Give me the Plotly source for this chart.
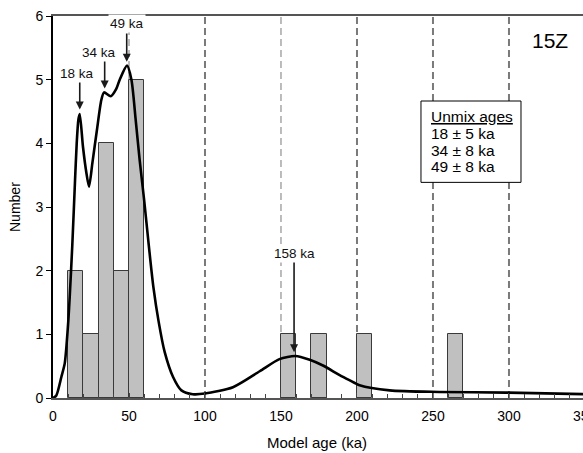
import plotly.graph_objects as go

# Histogram of model ages (10 ka bins)
bin_start = [10, 20, 30, 40, 50, 150, 170, 200, 260]
bin_count = [2, 1, 4, 2, 5, 1, 1, 1, 1]
bin_width = 10

# Probability density curve (age in ka, scaled density)
curve_age = [0, 2.2, 5.5, 7.7, 8.8, 10.1, 11.0, 12.7, 14.5, 15.6, 16.7, 17.6,
             19.7, 22.0, 23.7, 25.9, 28.9, 31.8, 33.6, 38.0, 41.7, 43.9, 48.7,
             51.6, 54.4, 57.0, 60.0, 63.0, 66.0, 69.5, 73.5, 79.0, 84.5, 92.0,
             100, 118.4, 136, 149, 159.5, 168.9, 177.6, 188.6, 195, 201.7,
             221.5, 254, 298, 350]
curve_density = [0, 0.04, 0.33, 0.54, 0.8, 1.22, 1.59, 2.4, 3.42, 4.0, 4.37, 4.46,
                 3.95, 3.53, 3.32, 3.69, 4.21, 4.68, 4.80, 4.74, 4.86, 5.0, 5.22,
                 5.0, 4.37, 3.74, 3.1, 2.4, 1.75, 1.2, 0.72, 0.33, 0.12, 0.06,
                 0.07, 0.17, 0.42, 0.61, 0.66, 0.60, 0.51, 0.36, 0.28, 0.2,
                 0.12, 0.095, 0.085, 0.06]

# Peak markers: (age, arrow tip, arrow tail, label)
peak_age = [17.6, 34.0, 48.5, 158.6]
peak_tip = [4.53, 4.86, 5.28, 0.72]
peak_tail = [5.0, 5.32, 5.75, 2.17]
peak_label = ["18 ka", "34 ka", "49 ka", "158 ka"]
peak_label_x = [16.0, 30.3, 48.9, 158.6]
peak_label_y = [5.10, 5.43, 5.88, 2.27]

# Unmix results box
unmix_title = "Unmix ages"
unmix_rows = ["18 ± 5 ka", "34 ± 8 ka", "49 ± 8 ka"]

grid_x = [50, 100, 150, 200, 250, 300]
grid_w = [1, 2, 1, 2, 2, 2]

FONT = "Liberation Sans"
X_MAX = 348.7

fig = go.Figure()

fig.add_trace(go.Bar(
    x=[s + bin_width / 2 for s in bin_start],
    y=bin_count,
    width=bin_width,
    marker=dict(color="#c0c0c0", line=dict(color="#3a3a3a", width=1)),
    showlegend=False, hoverinfo="skip",
))

fig.add_trace(go.Scatter(
    x=curve_age, y=curve_density, mode="lines",
    line=dict(color="black", width=2.6, shape="spline", smoothing=0.7),
    showlegend=False, hoverinfo="skip",
))

for gx, gw in zip(grid_x, grid_w):
    fig.add_shape(type="line", x0=gx, x1=gx, y0=0, y1=6, xref="x", yref="y",
                  line=dict(color="#7a7a7a", width=gw, dash="7px,4px"),
                  layer="below")

annotations = []
for a, tip, tail in zip(peak_age, peak_tip, peak_tail):
    annotations.append(dict(
        x=a, y=tip, ax=a, ay=tail, xref="x", yref="y", axref="x", ayref="y",
        text="", showarrow=True, arrowhead=2, arrowsize=1.0, arrowwidth=1.6,
        arrowcolor="#1a1a1a", standoff=0,
    ))
for lx, ly, lt in zip(peak_label_x, peak_label_y, peak_label):
    annotations.append(dict(
        x=lx, y=ly, xref="x", yref="y", text=lt, showarrow=False,
        font=dict(family=FONT, size=13.5, color="#111"),
        xanchor="center", yanchor="middle", bgcolor="white", borderpad=1,
    ))

# Results box
fig.add_shape(type="rect", x0=242.1, x1=307.9, y0=3.387, y1=4.665,
              xref="x", yref="y", fillcolor="white",
              line=dict(color="black", width=1), layer="above")
box_rows = ["<u>" + unmix_title + "</u>"] + unmix_rows
box_y = [4.42, 4.16, 3.89, 3.63]
for ty, txt in zip(box_y, box_rows):
    annotations.append(dict(
        x=247.5, y=ty, xref="x", yref="y", text=txt, showarrow=False,
        font=dict(family=FONT, size=15.5, color="black"),
        xanchor="left", yanchor="middle",
    ))

# Sample name
annotations.append(dict(
    x=327, y=5.61, xref="x", yref="y", text="15Z", showarrow=False,
    font=dict(family=FONT, size=21, color="black"),
    xanchor="center", yanchor="middle",
))

# Axis titles
annotations.append(dict(
    x=173.8, y=0, xref="x", yref="paper", yshift=-44, text="Model age (ka)",
    showarrow=False,
    font=dict(family=FONT, size=15, color="black"),
    xanchor="center", yanchor="middle",
))
annotations.append(dict(
    x=0, y=3.0, xref="paper", yref="y", xshift=-38, text="Number",
    showarrow=False, textangle=-90,
    font=dict(family=FONT, size=14, color="black"),
    xanchor="center", yanchor="middle",
))
# Last tick label at the right edge
annotations.append(dict(
    x=350 / X_MAX, y=0, xref="paper", yref="paper", yshift=-18,
    text="350", showarrow=False,
    font=dict(family=FONT, size=14, color="black"),
    xanchor="center", yanchor="middle",
))

fig.update_layout(
    width=583, height=453,
    margin=dict(l=53, r=0, t=16, b=55),
    paper_bgcolor="white", plot_bgcolor="white",
    bargap=0, annotations=annotations,
    font=dict(family=FONT, size=14, color="black"),
)

fig.update_xaxes(
    range=[0, X_MAX], tickmode="array", tickvals=[0, 50, 100, 150, 200, 250, 300],
    ticks="inside", ticklen=5, tickcolor="#444", tickwidth=1,
    minor=dict(ticks="inside", tickmode="linear", tick0=0, dtick=10, ticklen=4,
               tickcolor="#444", tickwidth=1),
    showline=True, linecolor="#555", linewidth=1.5, mirror=True,
    showgrid=False, zeroline=False, ticklabelstandoff=4,
    tickfont=dict(family=FONT, size=14, color="black"),
)
fig.update_yaxes(
    range=[0, 6], dtick=1, ticks="outside", ticklen=5, tickcolor="black",
    showline=True, linecolor="black", linewidth=2,
    showgrid=False, zeroline=False,
    tickfont=dict(family=FONT, size=14, color="black"),
)

fig.write_html("out.html")
